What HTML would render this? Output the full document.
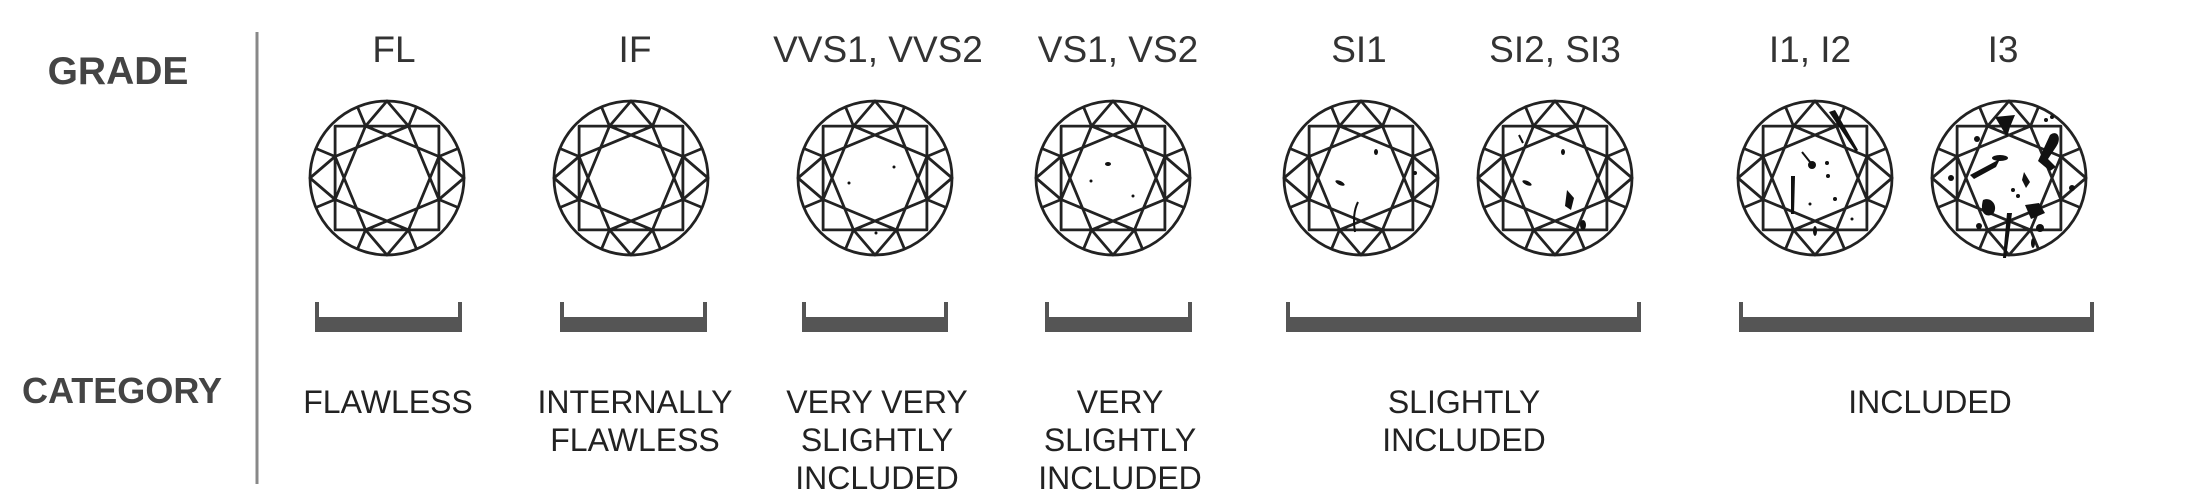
<!DOCTYPE html>
<html><head><meta charset="utf-8"><style>
html,body{margin:0;padding:0;background:#fff;}
svg{display:block;}
</style></head><body>
<svg width="2185" height="500" viewBox="0 0 2185 500" xmlns="http://www.w3.org/2000/svg">
<defs>
<g id="d" fill="none" stroke="#222" stroke-width="2.8" stroke-linejoin="round">
<circle r="77"/>
<polygon points="-51.9,-51.9 51.9,-51.9 51.9,51.9 -51.9,51.9"/>
<polygon points="-21.5,-51.9 51.9,-21.5 21.5,51.9 -51.9,21.5"/>
<polygon points="-51.9,-21.5 21.5,-51.9 51.9,21.5 -21.5,51.9"/>
<path d="M-21.5,-51.9L0,-77L21.5,-51.9M51.9,-21.5L77,0L51.9,21.5M21.5,51.9L0,77L-21.5,51.9M-51.9,21.5L-77,0L-51.9,-21.5"/>
<path d="M-21.5,-51.9L-29.5,-71.1M21.5,-51.9L29.5,-71.1M51.9,-21.5L71.1,-29.5M51.9,21.5L71.1,29.5M21.5,51.9L29.5,71.1M-21.5,51.9L-29.5,71.1M-51.9,21.5L-71.1,29.5M-51.9,-21.5L-71.1,-29.5"/>
</g>
</defs>
<g font-family="'Liberation Sans',sans-serif">
<text x="118" y="84" font-size="39" font-weight="bold" fill="#444" text-anchor="middle">GRADE</text>
<text x="122" y="403" font-size="36" font-weight="bold" fill="#444" text-anchor="middle">CATEGORY</text>
<line x1="257" y1="32" x2="257" y2="484" stroke="#888" stroke-width="3"/>
<g font-size="37" fill="#333" text-anchor="middle">
<text x="394" y="62">FL</text>
<text x="635" y="62">IF</text>
<text x="878" y="62">VVS1, VVS2</text>
<text x="1118" y="62">VS1, VS2</text>
<text x="1359" y="62">SI1</text>
<text x="1555" y="62">SI2, SI3</text>
<text x="1810" y="62">I1, I2</text>
<text x="2003" y="62">I3</text>
</g>
<g font-size="32" fill="#222" text-anchor="middle">
<text x="388" y="413">FLAWLESS</text>
<text x="635" y="413">INTERNALLY</text><text x="635" y="451">FLAWLESS</text>
<text x="877" y="413">VERY VERY</text><text x="877" y="451">SLIGHTLY</text><text x="877" y="489">INCLUDED</text>
<text x="1120" y="413">VERY</text><text x="1120" y="451">SLIGHTLY</text><text x="1120" y="489">INCLUDED</text>
<text x="1464" y="413">SLIGHTLY</text><text x="1464" y="451">INCLUDED</text>
<text x="1930" y="413">INCLUDED</text>
</g>
</g>
<g fill="#555">
<path d="M315,302h4v15h139v-15h4v30h-147z"/>
<path d="M560,302h4v15h139v-15h4v30h-147z"/>
<path d="M802,302h4v15h138v-15h4v30h-146z"/>
<path d="M1045,302h4v15h139v-15h4v30h-147z"/>
<path d="M1286,302h4v15h347v-15h4v30h-355z"/>
<path d="M1739,302h4v15h347v-15h4v30h-355z"/>
</g>
<use href="#d" x="387" y="178"/>
<use href="#d" x="631" y="178"/>
<use href="#d" x="875" y="178"/>
<use href="#d" x="1113" y="178"/>
<use href="#d" x="1361" y="178"/>
<use href="#d" x="1555" y="178"/>
<use href="#d" x="1815" y="178"/>
<use href="#d" x="2009" y="178"/>
<g fill="#111">
<circle cx="894" cy="167" r="1.5"/><circle cx="849" cy="183" r="1.5"/><circle cx="876" cy="233" r="1.5"/>
<ellipse cx="1108" cy="164" rx="3" ry="2"/><circle cx="1091" cy="181" r="1.5"/><circle cx="1133" cy="196" r="1.5"/>
<ellipse cx="1376" cy="152" rx="2" ry="3"/><ellipse cx="1340" cy="183" rx="5" ry="2" transform="rotate(25 1340 183)"/><circle cx="1415" cy="173" r="2"/><path d="M1358,202q-6,12 -3,30" stroke="#111" stroke-width="2" fill="none"/>
<ellipse cx="1563" cy="152" rx="2" ry="3"/><ellipse cx="1527" cy="183" rx="5" ry="2" transform="rotate(25 1527 183)"/><path d="M1567,190l7,8l-3,12l-6,-4z"/><ellipse cx="1583" cy="225" rx="3" ry="5"/><path d="M1519,135l4,8" stroke="#111" stroke-width="2"/>
<path d="M1829,112l6,-2l23,40l-2,2z"/><path d="M1791,176l4,0l-1,38l-3,0z"/><circle cx="1812" cy="165" r="4"/><circle cx="1827" cy="163" r="2"/><circle cx="1828" cy="176" r="2"/><circle cx="1810" cy="204" r="1.5"/><circle cx="1835" cy="199" r="2"/><circle cx="1852" cy="219" r="1.5"/><ellipse cx="1815" cy="231" rx="2" ry="5"/><path d="M1802,152l8,10" stroke="#111" stroke-width="2"/>
<path d="M1995,117l20,-2l-5,12l-3,10l-6,-10z"/><path d="M2050,135c8,-6 12,4 6,12l-8,12l8,8l-6,4l-12,-10z"/><path d="M1970,175l30,-16l-4,8l-22,12z"/><ellipse cx="2000" cy="158" rx="8" ry="3"/><path d="M1983,200c8,-4 16,6 10,14c-6,4 -14,0 -10,-14z"/><path d="M2025,205l14,-2l6,10l-14,6z"/><path d="M2007,213l-4,45l3,0l6,-45z"/><path d="M2024,172l6,10l-4,6l-4,-8z"/>
<circle cx="1951" cy="178" r="3"/><circle cx="2072" cy="188" r="3"/><circle cx="1977" cy="139" r="3"/><circle cx="2046" cy="120" r="2"/><circle cx="2052" cy="117" r="2"/><circle cx="2013" cy="190" r="2"/><circle cx="2018" cy="196" r="2"/><circle cx="2040" cy="228" r="4"/><circle cx="1979" cy="226" r="3"/><ellipse cx="2033" cy="243" rx="2" ry="5"/>
</g>
</svg>
</body></html>
